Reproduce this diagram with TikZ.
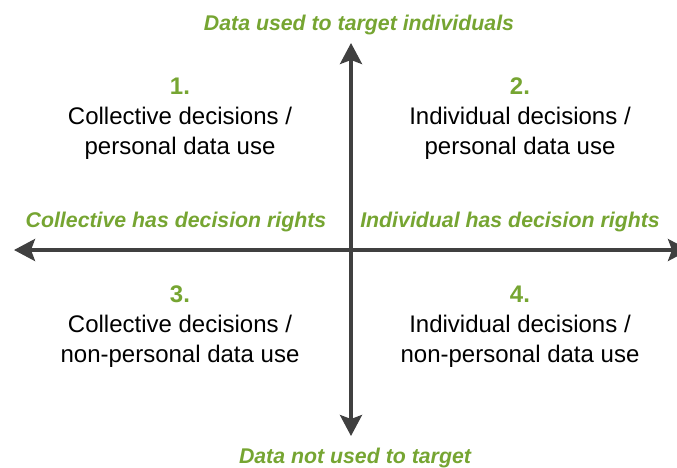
\documentclass[tikz,border=0pt]{standalone}
\usepackage{fontspec}
\setmainfont{Liberation Sans}
\usetikzlibrary{arrows.meta}
\definecolor{axisgreen}{HTML}{76A532}
\definecolor{axisgray}{HTML}{404040}
\tikzset{
  axis/.style={line width=3.5pt,axisgray,
    {Stealth[length=21pt,width=22pt,inset=4pt]}-{Stealth[length=21pt,width=22pt,inset=4pt]}},
  axislabel/.style={axisgreen,font=\fontsize{21.3}{24}\selectfont\bfseries\itshape},
  quadrant/.style={align=center,font=\fontsize{24}{30}\selectfont},
}
\newcommand{\qnum}[1]{{\color{axisgreen}\bfseries #1}}

\begin{document}
\begin{tikzpicture}[x=1pt,y=-1pt]
    \useasboundingbox (0,0) rectangle (677,467);
    \coordinate (W) at (14,250);
    \coordinate (E) at (689,250);
    \coordinate (N) at (351,43);
    \coordinate (S) at (351,436);
      \draw [axis] (W)
        -- (E);
      \draw [axis] (S)
        -- (N);
      \node [axislabel] (top) at (359,24.5) {Data used to target individuals};
      \node [axislabel] (bottom) at (355,458) {Data not used to target};
      \node [axislabel] (left) at (176,221.5) {Collective has decision rights};
      \node [axislabel] (right) at (510,221.5) {Individual has decision rights};
      \node [quadrant] (q1) at (180,119) {\qnum{1.}\\Collective decisions /\\personal data use};
      \node [quadrant] (q2) at (520,119) {\qnum{2.}\\Individual decisions /\\personal data use};
      \node [quadrant] (q3) at (180,327) {\qnum{3.}\\Collective decisions /\\non-personal data use};
      \node [quadrant] (q4) at (520,327) {\qnum{4.}\\Individual decisions /\\non-personal data use};
  \end{tikzpicture}
\end{document}
